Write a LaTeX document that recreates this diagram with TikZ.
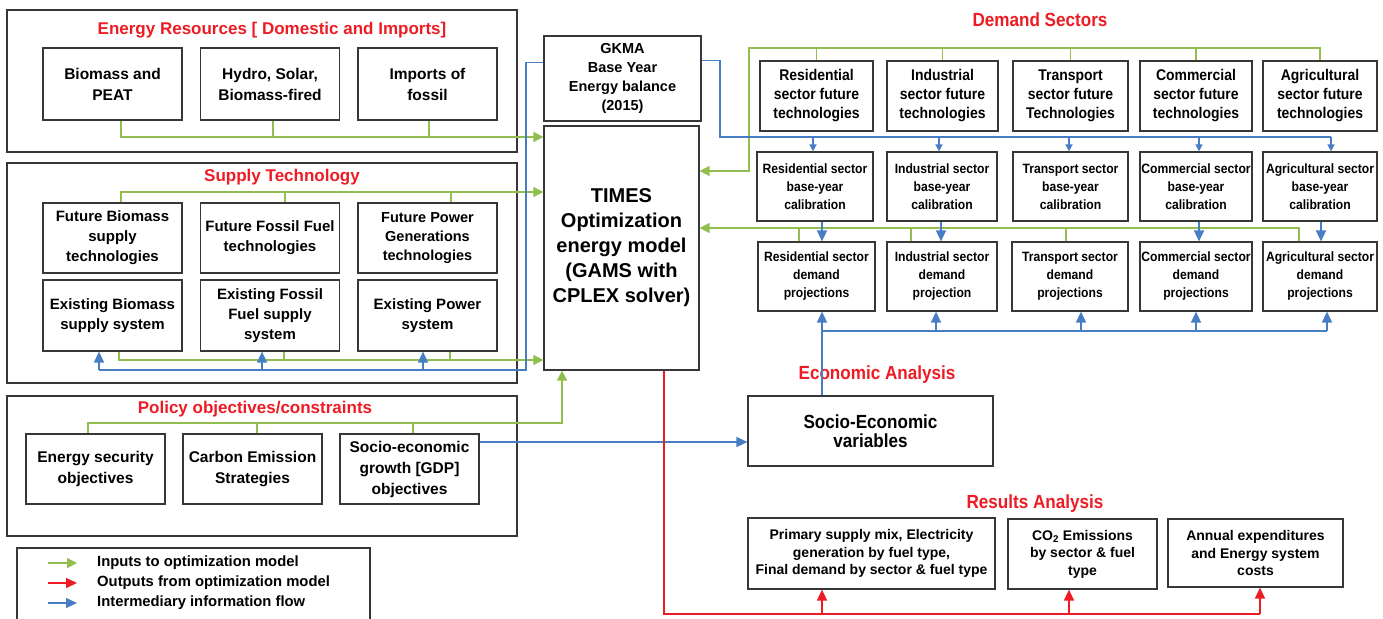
\documentclass[tikz,border=0pt]{standalone}
\usepackage{fontspec}
\setmainfont{Liberation Sans}
\newfontfamily\narrowfont[FakeStretch=0.9]{Liberation Sans}
\usepackage{tikz}
\usetikzlibrary{arrows.meta,positioning}

\definecolor{ingreen}{RGB}{146,190,80}
\definecolor{outred}{RGB}{237,28,36}
\definecolor{infoblue}{RGB}{70,125,195}
\definecolor{boxgray}{RGB}{55,55,55}

\tikzset{
  panel/.style={draw=boxgray, line width=1.2pt, inner sep=0pt},
  lbox/.style={panel, align=center, font=\bfseries\fontsize{15.5}{21}\selectfont},
  rbox/.style={panel, align=center, font=\narrowfont\bfseries\fontsize{13.5}{18}\selectfont},
  ltitle/.style={inner sep=0pt, text=outred, font=\bfseries\fontsize{17}{20}\selectfont},
  rtitle/.style={inner sep=0pt, text=outred, font=\narrowfont\bfseries\fontsize{19}{22}\selectfont},
  gline/.style={draw=ingreen, line width=1.5pt},
  bline/.style={draw=infoblue, line width=1.5pt},
  rline/.style={draw=outred, line width=1.5pt},
  garrow/.style={gline, -{Triangle[length=10pt,width=10pt]}},
  barrow/.style={bline, -{Triangle[length=11pt,width=10pt]}},
  bsmall/.style={bline, -{Triangle[length=7pt,width=7pt]}},
  rarrow/.style={rline, -{Triangle[length=11pt,width=10pt]}}
}

\begin{document}
\begin{tikzpicture}[x=1pt,y=-1pt]
\useasboundingbox (0,0) rectangle (1383,618);

% left panels
\node[panel, minimum width=510, minimum height=142] (resframe) at (262,81) {};
\node[ltitle] (restitle) at (272,30) {Energy Resources [ Domestic and Imports]};
\node[lbox, minimum width=139, minimum height=72] (biomass) at (112.5,84) {Biomass and\\PEAT};
\node[lbox, minimum width=139, minimum height=72] (hydro) at (270,84) {Hydro, Solar,\\Biomass-fired};
\node[lbox, minimum width=139, minimum height=72] (imports) at (427.5,84) {Imports of\\fossil};

\node[panel, minimum width=510, minimum height=220] (supframe) at (262,273) {};
\node[ltitle] (suptitle) at (282,177) {Supply Technology};
\node[lbox, minimum width=139, minimum height=70, font=\bfseries\fontsize{15}{20}\selectfont] (futbio) at (112.5,238) {Future Biomass\\supply\\technologies};
\node[lbox, minimum width=139, minimum height=70, font=\bfseries\fontsize{15}{20}\selectfont] (futfos) at (270,238) {Future Fossil Fuel\\technologies};
\node[lbox, minimum width=139, minimum height=70, font=\bfseries\fontsize{14.5}{19}\selectfont] (futpow) at (427.5,238) {Future Power\\Generations\\technologies};
\node[lbox, minimum width=139, minimum height=71, font=\bfseries\fontsize{15}{20}\selectfont] (exibio) at (112.5,315.5) {Existing Biomass\\supply system};
\node[lbox, minimum width=139, minimum height=71, font=\bfseries\fontsize{15}{20}\selectfont] (exifos) at (270,315.5) {Existing Fossil\\Fuel supply\\system};
\node[lbox, minimum width=139, minimum height=71, font=\bfseries\fontsize{15}{20}\selectfont] (exipow) at (427.5,315.5) {Existing Power\\system};

\node[panel, minimum width=510, minimum height=140] (polframe) at (262,466) {};
\node[ltitle] (poltitle) at (255,409) {Policy objectives/constraints};
\node[lbox, minimum width=139, minimum height=70] (ensec) at (95.5,469) {Energy security\\objectives};
\node[lbox, minimum width=139, minimum height=70] (carbon) at (252.5,469) {Carbon Emission\\Strategies};
\node[lbox, minimum width=139, minimum height=70] (socgrowth) at (409.5,469) {Socio-economic\\growth [GDP]\\objectives};

% legend
\draw[panel] (17,625) -- (17,548) -- (370,548) -- (370,625);
\node[anchor=west, inner sep=0pt, font=\bfseries\fontsize{14.8}{18}\selectfont] (legin) at (97,563) {Inputs to optimization model};
\node[anchor=west, inner sep=0pt, font=\bfseries\fontsize{14.8}{18}\selectfont] (legout) at (97,583) {Outputs from optimization model};
\node[anchor=west, inner sep=0pt, font=\bfseries\fontsize{14.8}{18}\selectfont] (leginfo) at (97,603) {Intermediary information flow};
\draw[garrow] ([xshift=-49pt]legin.west) -- ([xshift=-20pt]legin.west);
\draw[rarrow] ([xshift=-49pt]legout.west) -- ([xshift=-20pt]legout.west);
\draw[barrow] ([xshift=-49pt]leginfo.west) -- ([xshift=-20pt]leginfo.west);

% model
\node[lbox, minimum width=157, minimum height=85, font=\bfseries\fontsize{14.5}{19}\selectfont] (gkma) at (622.5,78.5) {GKMA\\Base Year\\Energy balance\\(2015)};
\node[lbox, minimum width=155, minimum height=244, font=\bfseries\fontsize{20}{25}\selectfont] (times) at (621.5,248) {TIMES\\Optimization\\energy model\\(GAMS with\\CPLEX solver)};

% demand sectors
\node[rtitle] (demtitle) at (1040,20) {Demand Sectors};
\node[rbox, minimum width=113, minimum height=70, font=\narrowfont\bfseries\fontsize{15.5}{19}\selectfont] (resfut) at (816.5,96) {Residential\\sector future\\technologies};
\node[rbox, minimum width=111, minimum height=70, font=\narrowfont\bfseries\fontsize{15.5}{19}\selectfont] (indfut) at (942.5,96) {Industrial\\sector future\\technologies};
\node[rbox, minimum width=115, minimum height=70, font=\narrowfont\bfseries\fontsize{15.5}{19}\selectfont] (trafut) at (1070.5,96) {Transport\\sector future\\Technologies};
\node[rbox, minimum width=112, minimum height=70, font=\narrowfont\bfseries\fontsize{15.5}{19}\selectfont] (comfut) at (1196,96) {Commercial\\sector future\\technologies};
\node[rbox, minimum width=114, minimum height=70, font=\narrowfont\bfseries\fontsize{15.5}{19}\selectfont] (agrfut) at (1320,96) {Agricultural\\sector future\\technologies};

\node[rbox, minimum width=116, minimum height=69] (rescal) at (815,186.5) {Residential sector\\base-year\\calibration};
\node[rbox, minimum width=110, minimum height=69] (indcal) at (942,186.5) {Industrial sector\\base-year\\calibration};
\node[rbox, minimum width=115, minimum height=69] (tracal) at (1070.5,186.5) {Transport sector\\base-year\\calibration};
\node[rbox, minimum width=112, minimum height=69] (comcal) at (1196,186.5) {Commercial sector\\base-year\\calibration};
\node[rbox, minimum width=114, minimum height=69] (agrcal) at (1320,186.5) {Agricultural sector\\base-year\\calibration};

\node[rbox, minimum width=117, minimum height=69] (resproj) at (816.5,276.5) {Residential sector\\demand\\projections};
\node[rbox, minimum width=110, minimum height=69] (indproj) at (942,276.5) {Industrial sector\\demand\\projection};
\node[rbox, minimum width=116, minimum height=69] (traproj) at (1070,276.5) {Transport sector\\demand\\projections};
\node[rbox, minimum width=112, minimum height=69] (comproj) at (1196,276.5) {Commercial sector\\demand\\projections};
\node[rbox, minimum width=114, minimum height=69] (agrproj) at (1320,276.5) {Agricultural sector\\demand\\projections};

% economic and results analysis
\node[rtitle] (ecotitle) at (877,375) {Economic Analysis};
\node[rbox, minimum width=245, minimum height=70, font=\narrowfont\bfseries\fontsize{19}{19}\selectfont] (socvar) at (870.5,431) {Socio-Economic\\variables};
\node[rtitle] (restitle2) at (1035,504) {Results Analysis};
\node[lbox, minimum width=247, minimum height=71, font=\bfseries\fontsize{14}{17.5}\selectfont] (primary) at (871.5,553.5) {Primary supply mix, Electricity\\generation by fuel type,\\Final demand by sector \& fuel type};
\node[lbox, minimum width=149, minimum height=70, font=\bfseries\fontsize{14}{17.5}\selectfont] (co2) at (1082.5,554) {CO\textsubscript{2} Emissions\\by sector \& fuel\\type};
\node[lbox, minimum width=175, minimum height=68, font=\bfseries\fontsize{14}{17.5}\selectfont] (annual) at (1255.5,553) {Annual expenditures\\and Energy system\\costs};

% bend points
\coordinate (resbus) at (121,137);
\coordinate (futbus) at (121,192);
\coordinate (exibus) at (119,360);
\coordinate (blbus) at (526,370);
\coordinate (blend) at (99,370);
\coordinate (polleft) at (88,423);
\coordinate (polbus) at (562,423);
\coordinate (sgline) at (0,442);
\coordinate (gkbus) at (720,137);
\coordinate (gkend) at (1331,137);
\coordinate (dsbus) at (749,48);
\coordinate (dsbend) at (749,171);
\coordinate (projbus) at (1299,228);
\coordinate (dembus) at (822,331);
\coordinate (demend) at (1327,331);
\coordinate (outbus) at (664,614);
\coordinate (outend) at (1260,614);

% inputs (green)
\draw[garrow] (biomass.south -| resbus) -- (resbus) -- (times.west |- resbus);
\foreach \n/\x in {hydro/273, imports/429} {
  \coordinate (c) at (\x,137);
  \draw[gline] (\n.south -| c) -- (c);
}
\draw[garrow] (futbio.north -| futbus) -- (futbus) -- (times.west |- futbus);
\foreach \n/\x in {futfos/285, futpow/451} {
  \coordinate (c) at (\x,192);
  \draw[gline] (\n.north -| c) -- (c);
}
\draw[garrow] (exibio.south -| exibus) -- (exibus) -- (times.west |- exibus);
\foreach \n/\x in {exifos/284, exipow/450} {
  \coordinate (c) at (\x,360);
  \draw[gline] (\n.south -| c) -- (c);
}
\draw[garrow] (ensec.north -| polleft) -- (polleft) -- (polbus) -- (times.south -| polbus);
\foreach \n/\x in {carbon/257, socgrowth/413} {
  \coordinate (c) at (\x,423);
  \draw[gline] (\n.north -| c) -- (c);
}
\draw[garrow] (agrfut.north) |- (dsbus) -- (dsbend) -- (times.east |- dsbend);
\foreach \n in {resfut, indfut, trafut, comfut}
  \draw[gline] (\n.north) -- (\n.north |- dsbus);
\draw[garrow] (agrproj.north -| projbus) -- (projbus) -- (times.east |- projbus);
\foreach \n/\x in {resproj/799, indproj/911, traproj/1066} {
  \coordinate (c) at (\x,228);
  \draw[gline] (\n.north -| c) -- (c);
}

% intermediary flow (blue)
\draw[bline] ([yshift=16pt]gkma.west) -| (blbus) -- (blend);
\foreach \n/\x in {exibio/99, exifos/262, exipow/423} {
  \coordinate (c) at (\x,370);
  \draw[barrow] (c) -- (c |- \n.south);
}
\draw[bline] ([yshift=18pt]gkma.east) -| (gkbus) -- (gkend);
\foreach \n/\x in {rescal/813, indcal/939, tracal/1069, comcal/1199, agrcal/1331} {
  \coordinate (c) at (\x,137);
  \draw[bsmall] (c) -- (c |- \n.north);
}
\foreach \a/\b/\x in {rescal/resproj/822, indcal/indproj/941, comcal/comproj/1199, agrcal/agrproj/1321} {
  \coordinate (c) at (\x,0);
  \draw[barrow] (\a.south -| c) -- (\b.north -| c);
}
\draw[bline] (dembus) -- (demend);
\draw[barrow] (socvar.north -| dembus) -- (resproj.south -| dembus);
\foreach \n/\x in {indproj/936, traproj/1081, comproj/1196, agrproj/1327} {
  \coordinate (c) at (\x,331);
  \draw[barrow] (c) -- (c |- \n.south);
}
\draw[barrow] (socgrowth.east |- sgline) -- (socvar.west |- sgline);

% outputs (red)
\draw[rline] (times.south -| outbus) -- (outbus) -- (outend);
\foreach \n/\x in {primary/822, co2/1069, annual/1260} {
  \coordinate (c) at (\x,614);
  \draw[rarrow] (c) -- (c |- \n.south);
}
\end{tikzpicture}
\end{document}
